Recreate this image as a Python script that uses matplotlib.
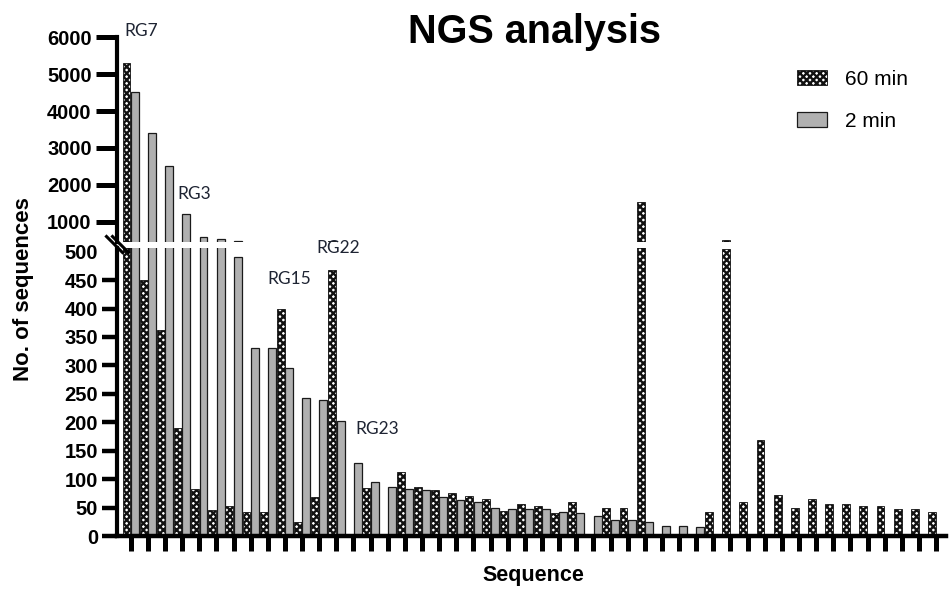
import matplotlib
matplotlib.use("Agg")
from matplotlib import pyplot as plt
from matplotlib.lines import Line2D
import numpy as np

plt.rcParams['font.family'] = ['Liberation Sans', 'DejaVu Sans']
plt.rcParams['hatch.linewidth'] = 1.7

# Data: number of sequences per sequence (sorted), two time points
n_seq = 48
min60 = [5300, 450, 362, 190, 82, 46, 52, 42, 42, 400,
         25, 69, 467, 0, 84, 0, 113, 87, 81, 76,
         71, 65, 44, 57, 52, 40, 60, 0, 49, 49,
         1540, 0, 0, 0, 42, 505, 60, 168, 72, 49,
         65, 57, 56, 53, 53, 47, 47, 42]
min2 = [4530, 3400, 2520, 1200, 593, 531, 490, 330, 330, 295,
        242, 240, 202, 129, 95, 86, 83, 81, 69, 64,
        59, 50, 47, 47, 47, 42, 40, 35, 28, 28,
        25, 18, 18, 16, 0, 0, 0, 0, 0, 0,
        0, 0, 0, 0, 0, 0, 0, 0]
series_labels = ['60 min', '2 min']
low_ticks = list(range(0, 501, 50))
high_ticks = [1000, 2000, 3000, 4000, 5000, 6000]
# annotations: (label, sequence index, value, axis)
notes = [('RG7', -0.4, 6170, 'hi'), ('RG3', 2.75, 1750, 'hi'),
         ('RG15', 7.95, 452, 'lo'), ('RG22', 10.85, 506, 'lo'),
         ('RG23', 13.1, 188, 'lo')]

W, H = 951, 590
fig = plt.figure(figsize=(W / 100, H / 100), dpi=100)

left, right = 116.7 / W, 946 / W
ax_hi = fig.add_axes([left, 1 - 241.7 / H, right - left, (241.7 - 37.3) / H])
ax_lo = fig.add_axes([left, 1 - 536 / H, right - left, (536 - 248.3) / H])

x = np.arange(n_seq)
bw = 0.46
off = 0.245
for ax in (ax_hi, ax_lo):
    ax.bar(x - off, min60, width=bw, facecolor='white', edgecolor='#111111',
           hatch='xxxxx', linewidth=0.6, label=series_labels[0])
    ax.bar(x + off, min2, width=bw, facecolor='#b0b0b0', edgecolor='#1a1a1a',
           linewidth=0.9, label=series_labels[1])
    ax.set_xlim(-0.82, n_seq - 0.42)
    for s in ('top', 'right'):
        ax.spines[s].set_visible(False)
    ax.spines['left'].set_linewidth(3.0)
    ax.spines['bottom'].set_linewidth(3.2)

ax_hi.set_ylim(458, 6000)
ax_hi.set_yticks(high_ticks)
ax_hi.spines['bottom'].set_visible(False)
ax_hi.tick_params(axis='x', bottom=False, labelbottom=False)
ax_hi.tick_params(axis='y', length=15, width=3.6, pad=3, labelsize=14.5)

ax_lo.set_ylim(0, 506)
ax_lo.set_yticks(low_ticks)
ax_lo.tick_params(axis='y', length=11, width=3.2, pad=2.5, labelsize=14.5)
ax_lo.yaxis.get_major_ticks()[-1].tick1line.set_visible(False)
ax_lo.set_xticks(x)
ax_lo.tick_params(axis='x', length=11, width=3.6, labelbottom=False)

for ax in (ax_hi, ax_lo):
    for lab in ax.get_yticklabels():
        lab.set_fontweight('bold')

for text, xi, yv, which in notes:
    ax = ax_hi if which == 'hi' else ax_lo
    ax.text(xi, yv, text, ha='left', va='center', fontsize=12.5,
            family=['Lato', 'DejaVu Sans'], color='#1e2433', clip_on=False)

# axis break marks
for cx in (114.5, 120.5):
    fig.add_artist(Line2D([(cx - 8) / W, (cx + 8) / W],
                          [1 - 236.5 / H, 1 - 252.5 / H],
                          transform=fig.transFigure, color='black', lw=2.2))

fig.text(534 / W, 1 - 43 / H, 'NGS analysis', ha='center', va='baseline',
         fontsize=28.5, fontweight='bold')
fig.text(533 / W, 1 - 576 / H, 'Sequence', ha='center', va='center',
         fontsize=15.5, fontweight='bold')
fig.text(24 / W, 1 - 289 / H, 'No. of sequences', ha='center', va='center',
         rotation=90, fontsize=16, fontweight='bold')

handles, labels = ax_hi.get_legend_handles_labels()
fig.legend(handles, labels, loc='upper left', bbox_to_anchor=(797 / W, 1 - 70 / H),
           frameon=False, fontsize=15, handlelength=1.45, handleheight=0.7,
           handletextpad=0.85, labelspacing=1.1, borderpad=0, borderaxespad=0)

fig.savefig('out.png', dpi=100)
